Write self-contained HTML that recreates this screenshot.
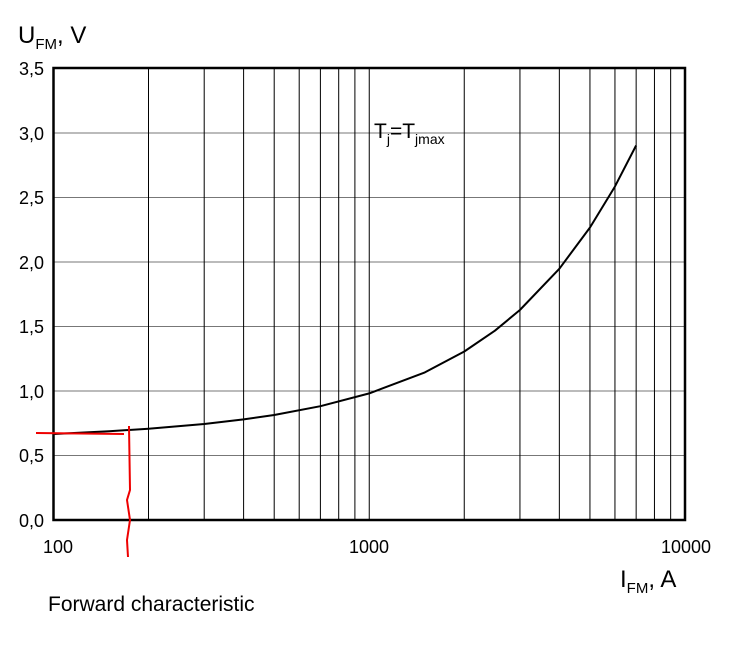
<!DOCTYPE html>
<html><head><style>body{margin:0;background:#fff}</style></head><body>
<svg width="737" height="657" xmlns="http://www.w3.org/2000/svg" font-family="Liberation Sans, Arial, sans-serif">
<rect width="737" height="657" fill="#fff"/>
<g stroke="#000" stroke-width="1">
<line x1="53.5" y1="133" x2="685" y2="133" stroke="#777"/>
<line x1="53.5" y1="197.5" x2="685" y2="197.5" stroke="#777"/>
<line x1="53.5" y1="262" x2="685" y2="262" stroke="#777"/>
<line x1="53.5" y1="326.5" x2="685" y2="326.5" stroke="#777"/>
<line x1="53.5" y1="391" x2="685" y2="391" stroke="#777"/>
<line x1="53.5" y1="455.5" x2="685" y2="455.5" stroke="#777"/>
<g id="v">
<line x1="148.5" y1="68" x2="148.5" y2="520"/>
<line x1="204.2" y1="68" x2="204.2" y2="520"/>
<line x1="243.6" y1="68" x2="243.6" y2="520"/>
<line x1="274.2" y1="68" x2="274.2" y2="520"/>
<line x1="299.2" y1="68" x2="299.2" y2="520"/>
<line x1="320.4" y1="68" x2="320.4" y2="520"/>
<line x1="338.7" y1="68" x2="338.7" y2="520"/>
<line x1="354.9" y1="68" x2="354.9" y2="520"/>
<line x1="369.25" y1="68" x2="369.25" y2="520"/>
</g>
<use href="#v" x="315.75"/>
</g>
<rect x="53.5" y="68" width="631.5" height="452" fill="none" stroke="#000" stroke-width="2.5"/>
<polyline points="54,434 109.1,431.3 148.5,428.7 204.2,424 243.6,419.4 274.2,415 320.4,406.2 369.25,393.4 424.85,372.4 464.3,351.5 494.9,330.7 519.9,310 559.3,268.8 589.9,227.6 614.9,186.6 636.1,145.5" fill="none" stroke="#000" stroke-width="2" stroke-linejoin="round"/>
<path d="M36,433 L124,434" stroke="#e00" stroke-width="2" fill="none"/>
<path d="M129,426 L130,490 L127,500 L130,520 L127,540 L128,557" stroke="#e00" stroke-width="2" fill="none"/>
<g font-size="18" text-anchor="end" fill="#000">
<text x="44" y="75">3,5</text><text x="44" y="140">3,0</text><text x="44" y="204">2,5</text>
<text x="44" y="269">2,0</text><text x="44" y="333">1,5</text><text x="44" y="398">1,0</text>
<text x="44" y="462">0,5</text><text x="44" y="527">0,0</text>
</g>
<g font-size="18" text-anchor="middle">
<text x="58" y="553">100</text><text x="369" y="553">1000</text><text x="686" y="553">10000</text>
</g>
<text x="18" y="43" font-size="24">U<tspan font-size="15" dy="6">FM</tspan><tspan dy="-6">, V</tspan></text>
<text x="620" y="587" font-size="24">I<tspan font-size="15" dy="6">FM</tspan><tspan dy="-6">, A</tspan></text>
<text x="374" y="138" font-size="21">T<tspan font-size="14" dy="6">j</tspan><tspan dy="-6">=T</tspan><tspan font-size="14" dy="6">jmax</tspan></text>
<text x="48" y="611" font-size="21">Forward characteristic</text>
</svg>
</body></html>
